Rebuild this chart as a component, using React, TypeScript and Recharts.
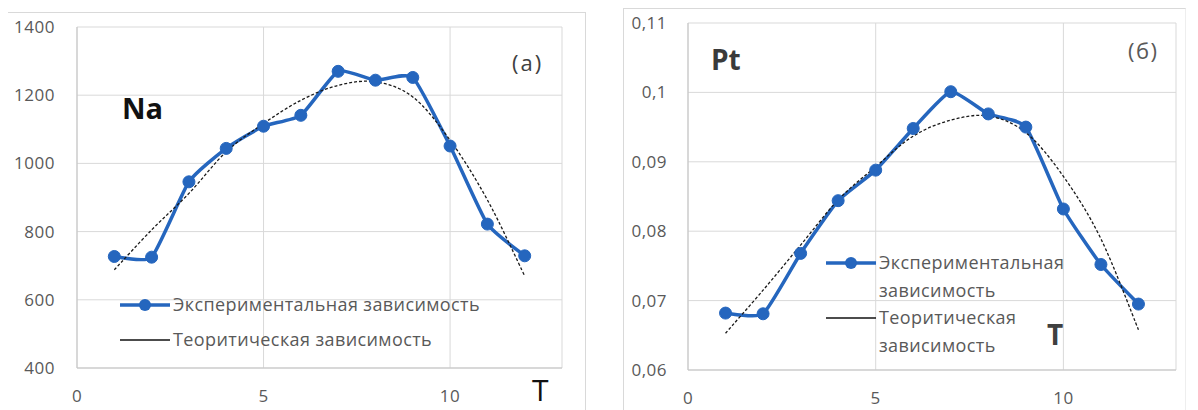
import { LineChart, Line, XAxis, YAxis, CartesianGrid, Legend } from 'recharts';

// значения
const T = [1, 2, 3, 4, 5, 6, 7, 8, 9, 10, 11, 12];
const naExp = [727, 725, 946, 1044, 1109, 1141, 1270, 1244, 1252, 1051, 822, 729];
const naTheory = [688, 805, 912, 1034, 1117, 1185, 1229, 1239, 1195, 1068, 893, 670];
const ptExp = [0.0682, 0.0681, 0.0768, 0.0844, 0.0888, 0.0948, 0.1001, 0.0969, 0.095, 0.0832, 0.0752, 0.0695];
const ptTheory = [0.0653, 0.0715, 0.078, 0.0845, 0.0893, 0.0937, 0.096, 0.0966, 0.0942, 0.0879, 0.0789, 0.0658];

const tTicks = [0, 5, 10];
const naTicks = [400, 600, 800, 1000, 1200, 1400];
const ptTicks = [0.06, 0.07, 0.08, 0.09, 0.1, 0.11];

const expName = 'Экспериментальная зависимость';
const theoryName = 'Теоритическая зависимость';

const BLUE = '#2566be';
const GRID = '#d9d9d9';
const AXIS = '#c4c4c4';
const TEXT = '#595959';
const FONT = '"Open Sans", sans-serif';

const naData = T.map((t, i) => ({ t, exp: naExp[i], theory: naTheory[i] }));
const ptData = T.map((t, i) => ({ t, exp: ptExp[i], theory: ptTheory[i] }));

// лёгкое сглаживание (Catmull-Rom с уменьшенными касательными)
function makeSmooth(k: number) {
  return function (context: any) {
    let pts: number[][] = [];
    return {
      areaStart() {},
      areaEnd() {},
      lineStart() {
        pts = [];
      },
      point(x: number, y: number) {
        pts.push([+x, +y]);
      },
      lineEnd() {
        const n = pts.length;
        if (!n) return;
        context.moveTo(pts[0][0], pts[0][1]);
        for (let i = 0; i < n - 1; i++) {
          const p0 = pts[Math.max(i - 1, 0)];
          const p1 = pts[i];
          const p2 = pts[i + 1];
          const p3 = pts[Math.min(i + 2, n - 1)];
          context.bezierCurveTo(
            p1[0] + (p2[0] - p0[0]) * k,
            p1[1] + (p2[1] - p0[1]) * k,
            p2[0] - (p3[0] - p1[0]) * k,
            p2[1] - (p3[1] - p1[1]) * k,
            p2[0],
            p2[1]
          );
        }
      },
    };
  };
}
const expCurve = makeSmooth(1 / 12);
const theoryCurve = makeSmooth(1 / 6);

const tick = { fill: TEXT, fontSize: 17, fontFamily: FONT, letterSpacing: 0.5 };

function LegendIcon({ dot }: { dot: boolean }) {
  return (
    <svg width={50} height={14} style={{ flex: 'none' }}>
      <line x1={0} y1={7} x2={50} y2={7} stroke={dot ? BLUE : '#111'} strokeWidth={dot ? 3.5 : 1.5} />
      {dot && <circle cx={25} cy={7} r={6} fill={BLUE} />}
    </svg>
  );
}

function SeriesLegend({ rowHeight, lineHeight, textWidth }: any) {
  const rows = [
    { name: expName, dot: true },
    { name: theoryName, dot: false },
  ];
  return (
    <div style={{ fontFamily: FONT, fontSize: 18, letterSpacing: 0.4, color: TEXT }}>
      {rows.map((r) => (
        <div key={r.name} style={{ display: 'flex', alignItems: 'flex-start', minHeight: rowHeight }}>
          <div style={{ height: lineHeight, display: 'flex', alignItems: 'center' }}>
            <LegendIcon dot={r.dot} />
          </div>
          <div style={{ marginLeft: 3, lineHeight: lineHeight + 'px', width: textWidth }}>{r.name}</div>
        </div>
      ))}
    </div>
  );
}

function Note({ text, left, top, size, color, bold, spacing }: any) {
  return (
    <div
      style={{
        position: 'absolute',
        left,
        top,
        fontSize: size,
        lineHeight: 1,
        color,
        fontWeight: bold ? 700 : 400,
        fontFamily: FONT,
        letterSpacing: spacing || 0,
        whiteSpace: 'nowrap',
      }}
    >
      {text}
    </div>
  );
}

export default function App() {
  return (
    <div style={{ position: 'absolute', left: 0, top: 0, width: 1198, height: 410, background: '#fff', overflow: 'hidden' }}>
      <div style={{ position: 'absolute', left: 8, top: 12, width: 577, height: 420, borderTop: `1px solid ${GRID}`, borderRight: `1px solid ${GRID}` }} />
      <div
        style={{
          position: 'absolute',
          left: 623,
          top: 8,
          width: 561,
          height: 420,
          borderTop: `1px solid ${GRID}`,
          borderLeft: `1px solid ${GRID}`,
          borderRight: '1px solid #eeeeee',
        }}
      />

      <div style={{ position: 'absolute', left: 0, top: 0 }}>
        <LineChart width={600} height={410} data={naData} margin={{ top: 27, right: 38, bottom: 12, left: 17 }}>
          <CartesianGrid stroke={GRID} />
          <XAxis
            dataKey="t"
            type="number"
            domain={[0, 13]}
            ticks={tTicks}
            tick={tick}
            tickSize={0}
            tickMargin={22}
            height={30}
            axisLine={{ stroke: AXIS }}
          />
          <YAxis
            domain={[400, 1400]}
            ticks={naTicks}
            tick={tick}
            tickSize={0}
            tickMargin={22}
            width={60}
            axisLine={{ stroke: AXIS }}
          />
          <Legend
            layout="vertical"
            align="center"
            verticalAlign="middle"
            wrapperStyle={{ left: 120, top: 287, width: 440 }}
            content={<SeriesLegend rowHeight={35} lineHeight={35} textWidth={380} />}
          />
          <Line
            name={expName}
            dataKey="exp"
            type={expCurve as any}
            stroke={BLUE}
            strokeWidth={3.5}
            dot={{ r: 6, fill: BLUE, stroke: BLUE, strokeWidth: 1 }}
            isAnimationActive={false}
          />
          <Line
            name={theoryName}
            dataKey="theory"
            type={theoryCurve as any}
            stroke="#1a1a1a"
            strokeWidth={1.3}
            strokeDasharray="3 2"
            dot={false}
            isAnimationActive={false}
          />
        </LineChart>
      </div>

      <div style={{ position: 'absolute', left: 600, top: 0 }}>
        <LineChart width={598} height={410} data={ptData} margin={{ top: 23, right: 22, bottom: 10, left: 18 }}>
          <CartesianGrid stroke={GRID} />
          <XAxis
            dataKey="t"
            type="number"
            domain={[0, 13]}
            ticks={tTicks}
            tick={tick}
            tickSize={0}
            tickMargin={22}
            height={30}
            axisLine={{ stroke: AXIS }}
          />
          <YAxis
            domain={[0.06, 0.11]}
            ticks={ptTicks}
            tick={tick}
            tickFormatter={(v: number) => String(v).replace('.', ',')}
            tickSize={0}
            tickMargin={21}
            width={70}
            axisLine={{ stroke: AXIS }}
          />
          <Legend
            layout="vertical"
            align="center"
            verticalAlign="middle"
            wrapperStyle={{ left: 226, top: 249, width: 270 }}
            content={<SeriesLegend rowHeight={55} lineHeight={27.5} textWidth={210} />}
          />
          <Line
            name={expName}
            dataKey="exp"
            type={expCurve as any}
            stroke={BLUE}
            strokeWidth={3.5}
            dot={{ r: 6, fill: BLUE, stroke: BLUE, strokeWidth: 1 }}
            isAnimationActive={false}
          />
          <Line
            name={theoryName}
            dataKey="theory"
            type={theoryCurve as any}
            stroke="#1a1a1a"
            strokeWidth={1.3}
            strokeDasharray="3 2"
            dot={false}
            isAnimationActive={false}
          />
        </LineChart>
      </div>

      <Note text="Na" left={122} top={93} size={29} color="#111" bold />
      <Note text="(a)" left={512} top={51} size={22} color="#404040" spacing={2} />
      <Note text="T" left={532} top={375} size={30} color="#111" />
      <Note text="Pt" left={711} top={45} size={28} color="#3a3a3a" bold />
      <Note text="(б)" left={1128} top={39} size={22} color={TEXT} spacing={1.5} />
      <Note text="T" left={1047} top={320} size={28} color="#404040" bold />
    </div>
  );
}
